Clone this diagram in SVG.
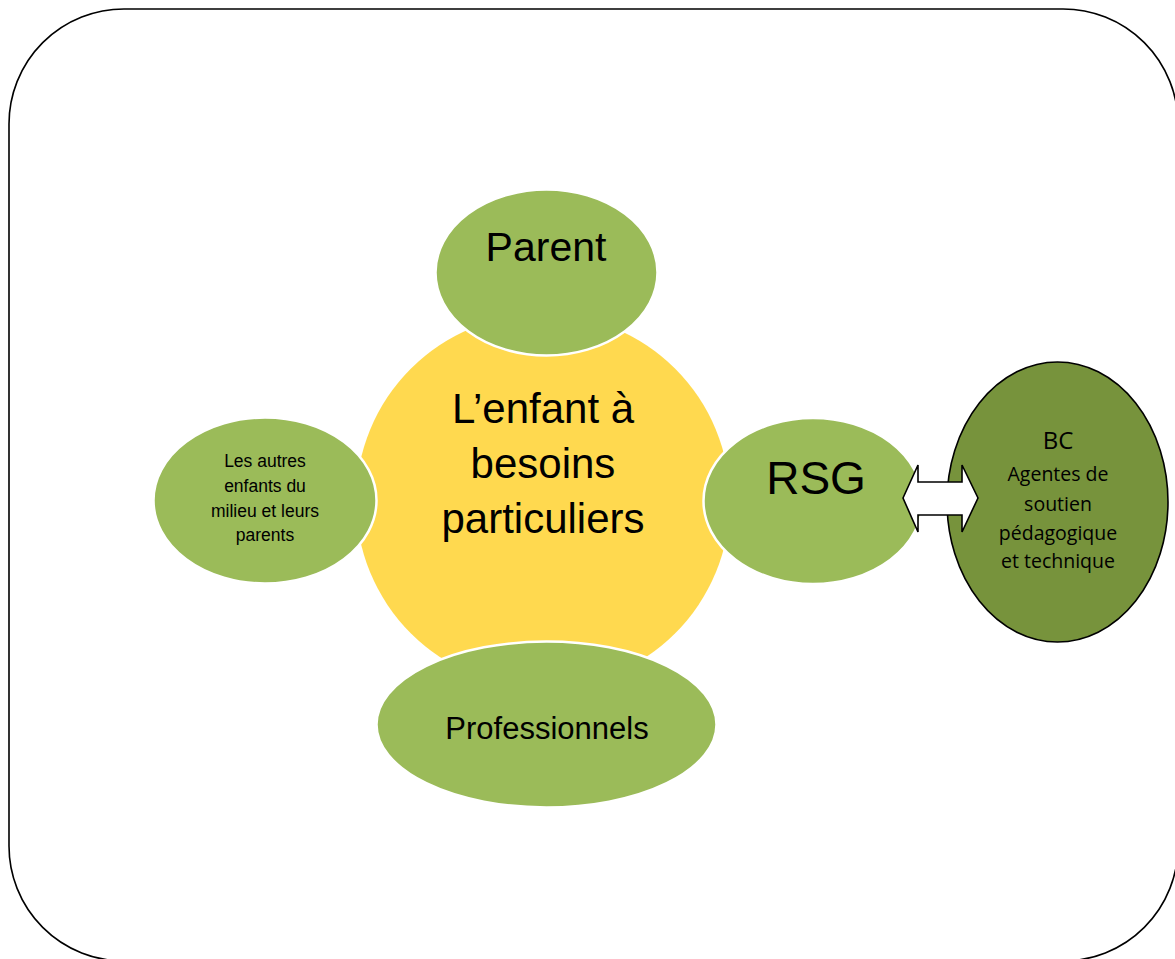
<svg xmlns="http://www.w3.org/2000/svg" width="1175" height="959" viewBox="0 0 1175 959">
  <style>
    .frame { fill: #ffffff; stroke: #000000; stroke-width: 1.6; }
    .green { fill: #9BBB59; stroke: #ffffff; stroke-width: 2.5; }
    .core { fill: #FFD94F; stroke: none; }
    .dark { fill: #77933C; stroke: #000000; stroke-width: 1.6; }
    .arrow { fill: #ffffff; stroke: #000000; stroke-width: 1.6; stroke-linejoin: miter; }
    .t { font-family: "Liberation Sans", Arial, sans-serif; fill: #000000; text-anchor: middle; }
    .c { font-family: "Open Sans", "Noto Sans", sans-serif; fill: #000000; text-anchor: middle; }
  </style>
  <rect class="frame" x="9" y="9" width="1169" height="952" rx="115" ry="115"/>

  <g id="enfant">
    <circle class="core" cx="543" cy="501" r="187"/>
    <text class="t" font-size="42" x="543" y="423">L’enfant à</text>
    <text class="t" font-size="42" x="543" y="478">besoins</text>
    <text class="t" font-size="42" x="543" y="533">particuliers</text>
  </g>

  <g id="parent">
    <ellipse class="green" cx="546.5" cy="272.5" rx="111" ry="83"/>
    <text class="t" font-size="41" x="546" y="261">Parent</text>
  </g>

  <g id="autres">
    <ellipse class="green" cx="265" cy="500.5" rx="111.5" ry="83"/>
    <text class="t" font-size="17.5" x="265" y="467">Les autres</text>
    <text class="t" font-size="17.5" x="265" y="492">enfants du</text>
    <text class="t" font-size="17.5" x="265" y="517">milieu et leurs</text>
    <text class="t" font-size="17.5" x="265" y="541">parents</text>
  </g>

  <g id="rsg">
    <ellipse class="green" cx="813" cy="501" rx="109.5" ry="83"/>
    <text class="t" font-size="46" x="816" y="494">RSG</text>
  </g>

  <g id="professionnels">
    <ellipse class="green" cx="546.5" cy="724.5" rx="170" ry="83"/>
    <text class="t" font-size="31" x="547" y="739">Professionnels</text>
  </g>

  <g id="bc">
    <ellipse class="dark" cx="1057.5" cy="502" rx="110.5" ry="140"/>
    <text class="c" font-size="24" x="1058" y="449">BC</text>
    <text class="c" font-size="19.5" x="1058" y="481">Agentes de</text>
    <text class="c" font-size="19.5" x="1058" y="511">soutien</text>
    <text class="c" font-size="19.5" x="1058" y="540">pédagogique</text>
    <text class="c" font-size="19.5" x="1058" y="568">et technique</text>
  </g>

  <g id="connectors">
    <polygon class="arrow" points="903,498 918,465 918,482 962,482 962,465 978,498 962,532 962,515 918,515 918,532"/>
  </g>
</svg>
